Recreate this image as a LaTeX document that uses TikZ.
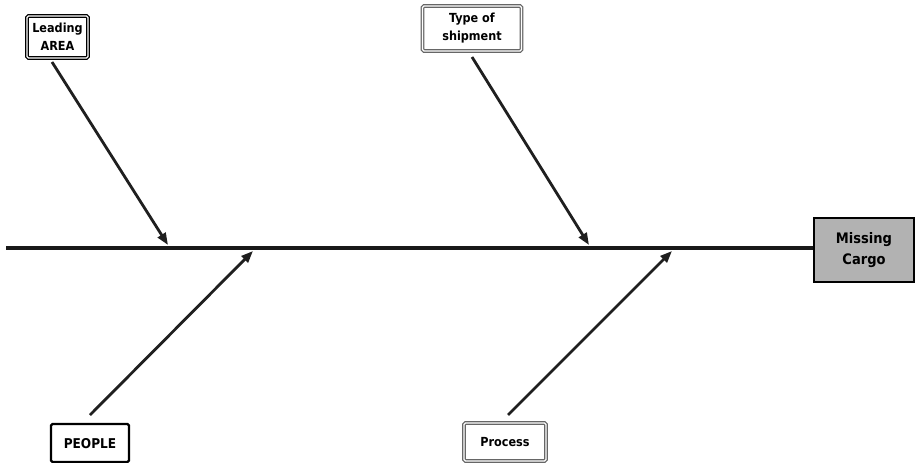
\documentclass[tikz,border=0pt]{standalone}
\usepackage{fontspec}
\setmainfont{DejaVu Sans Condensed}
\usetikzlibrary{arrows.meta}
\begin{document}
\begin{tikzpicture}[x=1pt,y=-1pt,
  cause/.style={font=\bfseries\fontsize{12.5}{15}\selectfont, align=center, inner sep=0pt},
  dblbox/.style={draw=#1, line width=1.2pt, double=white, double distance=1.2pt, rounded corners=1.5pt},
  bone/.style={line width=2.8pt, draw=black!88, -{Triangle[length=12pt,width=9pt]}},
  spine/.style={line width=4.6pt, draw=black!90}]
  \useasboundingbox (0,0) rectangle (916,463);
  \fill[white] (0,0) rectangle (916,463);

  % effect box on the head of the spine
  \node[draw=black, line width=2.4pt, fill=gray!60, minimum width=100pt, minimum height=64pt,
        font=\bfseries\fontsize{14.5}{21}\selectfont, align=center, inner sep=0pt]
        (effect) at (864,250) {Missing\\Cargo};

  % cause boxes
  \node[dblbox=black, minimum width=61pt, minimum height=42pt] (areabox) at (57.5,37) {};
  \node[cause] (area) at (57.5,37) {Leading\\[3pt]AREA};
  \node[dblbox=black!60, minimum width=99pt, minimum height=45pt] (shipbox) at (472,28.5) {};
  \node[cause] (ship) at (472,28.5) {Type of\\[3pt]shipment};
  \node[draw=black, line width=2.2pt, rounded corners=1.5pt, minimum width=78pt, minimum height=38pt] (peoplebox) at (90,443) {};
  \node[cause, font=\bfseries\fontsize{13.5}{16}\selectfont] (people) at (90,444) {PEOPLE};
  \node[dblbox=black!60, minimum width=82pt, minimum height=38pt] (procbox) at (505,442) {};
  \node[cause] (proc) at (505,442) {Process};

  % spine
  \coordinate (tail) at (6,248);
  \draw[spine] (tail) -- (effect.west |- tail);

  % bone tips on the spine
  \coordinate (tA) at (168,245);
  \coordinate (tS) at (589,245);
  \coordinate (tP) at (253,251);
  \coordinate (tR) at (672,251);
  \coordinate (sA) at (52,62);
  \coordinate (sS) at (472,57);
  \coordinate (sP) at (90,415);
  \coordinate (sR) at (508,415);

  % bones
  \draw[bone] (sA) -- (tA);
  \draw[bone] (sS) -- (tS);
  \draw[bone] (sP) -- (tP);
  \draw[bone] (sR) -- (tR);
\end{tikzpicture}
\end{document}
